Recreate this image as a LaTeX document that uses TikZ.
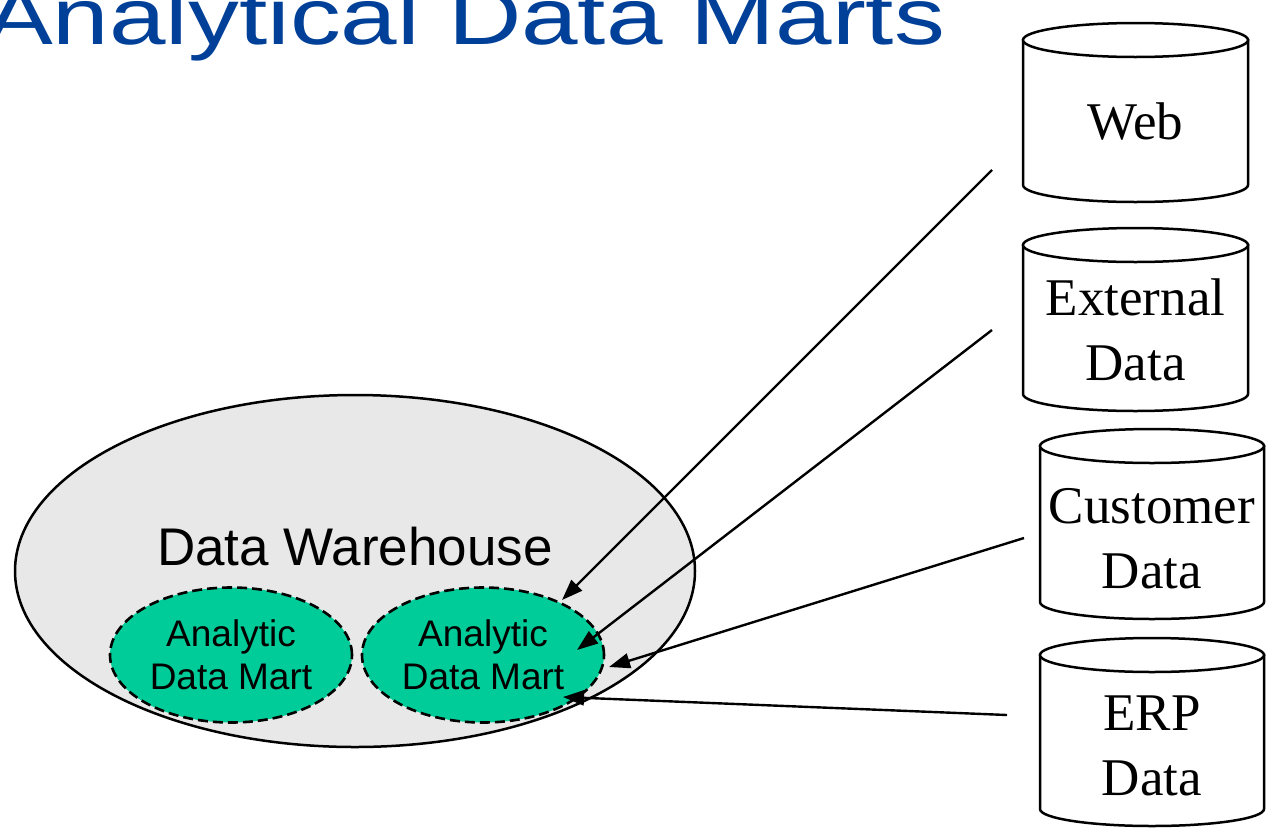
\documentclass[tikz,border=0pt]{standalone}
\usepackage{fontspec}
\setmainfont{Liberation Serif}
\setsansfont{Liberation Sans}
\usetikzlibrary{arrows.meta,calc,shapes.geometric}
\definecolor{titleblue}{RGB}{0,64,152}
\definecolor{martgreen}{RGB}{0,204,153}
\definecolor{dwgrey}{RGB}{232,232,232}

% database drum: centre x, x radius, top rim y, bottom rim y
\newcommand\dbdrum[4]{%
  \filldraw[fill=white, outline] (#1-#2,#3) -- (#1-#2,#4)
    arc[start angle=180, end angle=0, x radius=#2, y radius=17]
    -- (#1+#2,#3) -- cycle;
  \filldraw[fill=white, outline] (#1,#3) ellipse [x radius=#2, y radius=17];
}

\begin{document}
\begin{tikzpicture}[x=1pt,y=-1pt,
  outline/.style={draw=black, line width=2.5pt},
  dwbox/.style={ellipse, fill=dwgrey, minimum width=680pt, minimum height=352pt, inner sep=0pt},
  mart/.style={ellipse, fill=martgreen, draw=black, line width=2.6pt,
    dash pattern=on 10pt off 5pt, minimum width=242pt, minimum height=135pt,
    inner sep=0pt, align=center, font=\sffamily\fontsize{37}{43}\selectfont},
  dbtext/.style={align=center, inner sep=0pt, font=\rmfamily\fontsize{53}{65}\selectfont},
  feed/.style={line width=2.4pt, -{Triangle[length=21pt,width=15pt]}},
]
\clip (0,0) rectangle (1266,828);
\fill[white] (0,0) rectangle (1266,828);

% title
\node[anchor=base west, inner sep=0pt, text=titleblue] (title) at (-15,44)
  {\scalebox{1.27}[1]{\sffamily\fontsize{80}{84}\selectfont Analytical Data Marts}};

% warehouse with its two marts
\node[dwbox] (dw) at (355,571) {};
\node[anchor=base, inner sep=0pt, font=\sffamily\fontsize{53}{60}\selectfont] (dwlabel) at (355,565) {Data Warehouse};
\node[mart] (martA) at (231,655) {Analytic\\Data Mart};
\node[mart] (martB) at (483,655) {Analytic\\Data Mart};
\draw[outline] (dw.center) ellipse [x radius=340, y radius=176];

% source databases
\dbdrum{1135.5}{112.5}{40}{185}
\dbdrum{1135.5}{112.5}{245}{394}
\dbdrum{1152}{112}{446}{602}
\dbdrum{1152}{112}{655}{809}
\node[dbtext] (web)  at (1135.5,122) {Web};
\node[dbtext] (ext)  at (1135.5,330) {External\\Data};
\node[dbtext] (cust) at (1152,539) {Customer\\Data};
\node[dbtext] (erp)  at (1152,746) {ERP\\Data};

% feeds into the mart
\coordinate (websrc)  at (992,170);
\coordinate (extsrc)  at (992,330);
\coordinate (custsrc) at (1024,538);
\coordinate (erpsrc)  at (1007,715);
\draw[feed] (websrc)  -- ($(martB.center)+(79,-55)$);
\draw[feed] (extsrc)  -- ($(martB.center)+(94,-5)$);
\draw[feed] (custsrc) -- ($(martB.center)+(126,12)$);
\draw[feed] (erpsrc)  -- ($(martB.center)+(80,42)$);
\end{tikzpicture}
\end{document}
